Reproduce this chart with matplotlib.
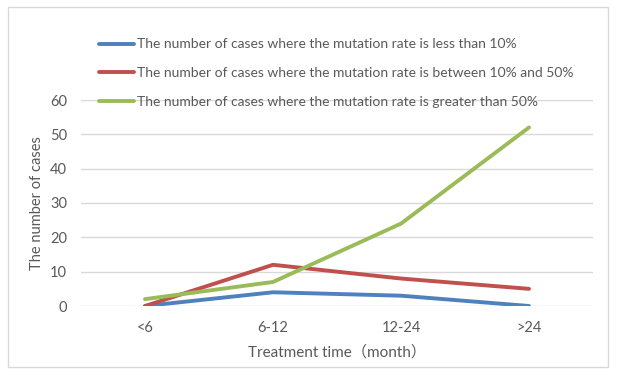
import matplotlib.pyplot as plt
from matplotlib.patches import Rectangle

plt.rcParams['font.family'] = ['Lato', 'Noto Sans CJK SC', 'DejaVu Sans']

categories = ['<6', '6-12', '12-24', '>24']
less_10 = [0, 4, 3, 0]
between_10_50 = [0, 12, 8, 5]
greater_50 = [2, 7, 24, 52]
labels = ['The number of cases where the mutation rate is less than 10%',
          'The number of cases where the mutation rate is between 10% and 50%',
          'The number of cases where the mutation rate is greater than 50%']
colors = ['#4F81BD', '#C0504D', '#9BBB59']
text_color = '#595959'

fig = plt.figure(figsize=(6.29, 3.77), dpi=100)
fig.patches.append(Rectangle((8 / 629, 1 - 367 / 377), 600 / 629, 360 / 377,
                             transform=fig.transFigure, fill=False,
                             edgecolor='#D9D9D9', linewidth=1))

ax = fig.add_axes([81 / 629, 1 - 306 / 377, 512 / 629, 206 / 377])
x = range(len(categories))
for vals, lab, col in zip([less_10, between_10_50, greater_50], labels, colors):
    ax.plot(x, vals, color=col, linewidth=2.8, label=lab, solid_capstyle='round')

ax.set_xlim(-0.5, 3.5)
ax.set_ylim(0, 60)
ax.set_yticks(range(0, 61, 10))
ax.set_xticks(list(x))
ax.set_xticklabels(categories)
ax.grid(axis='y', color='#D9D9D9', linewidth=1)
ax.set_axisbelow(True)
for s in ax.spines.values():
    s.set_visible(False)
ax.tick_params(length=0, labelsize=10.5, labelcolor=text_color)
ax.tick_params(axis='x', pad=11)
ax.tick_params(axis='y', pad=10)
ax.set_xlabel('Treatment time（month）', fontsize=11, color=text_color, labelpad=7)
ax.set_ylabel('The number of cases', fontsize=10.5, color=text_color, labelpad=4)

fig.legend(loc='upper left', bbox_to_anchor=(87 / 629, 1 - 26 / 377),
           frameon=False, fontsize=10, labelcolor=text_color,
           handlelength=2.5, handletextpad=0.2, labelspacing=1.2)

fig.savefig('out.png', dpi=100)
